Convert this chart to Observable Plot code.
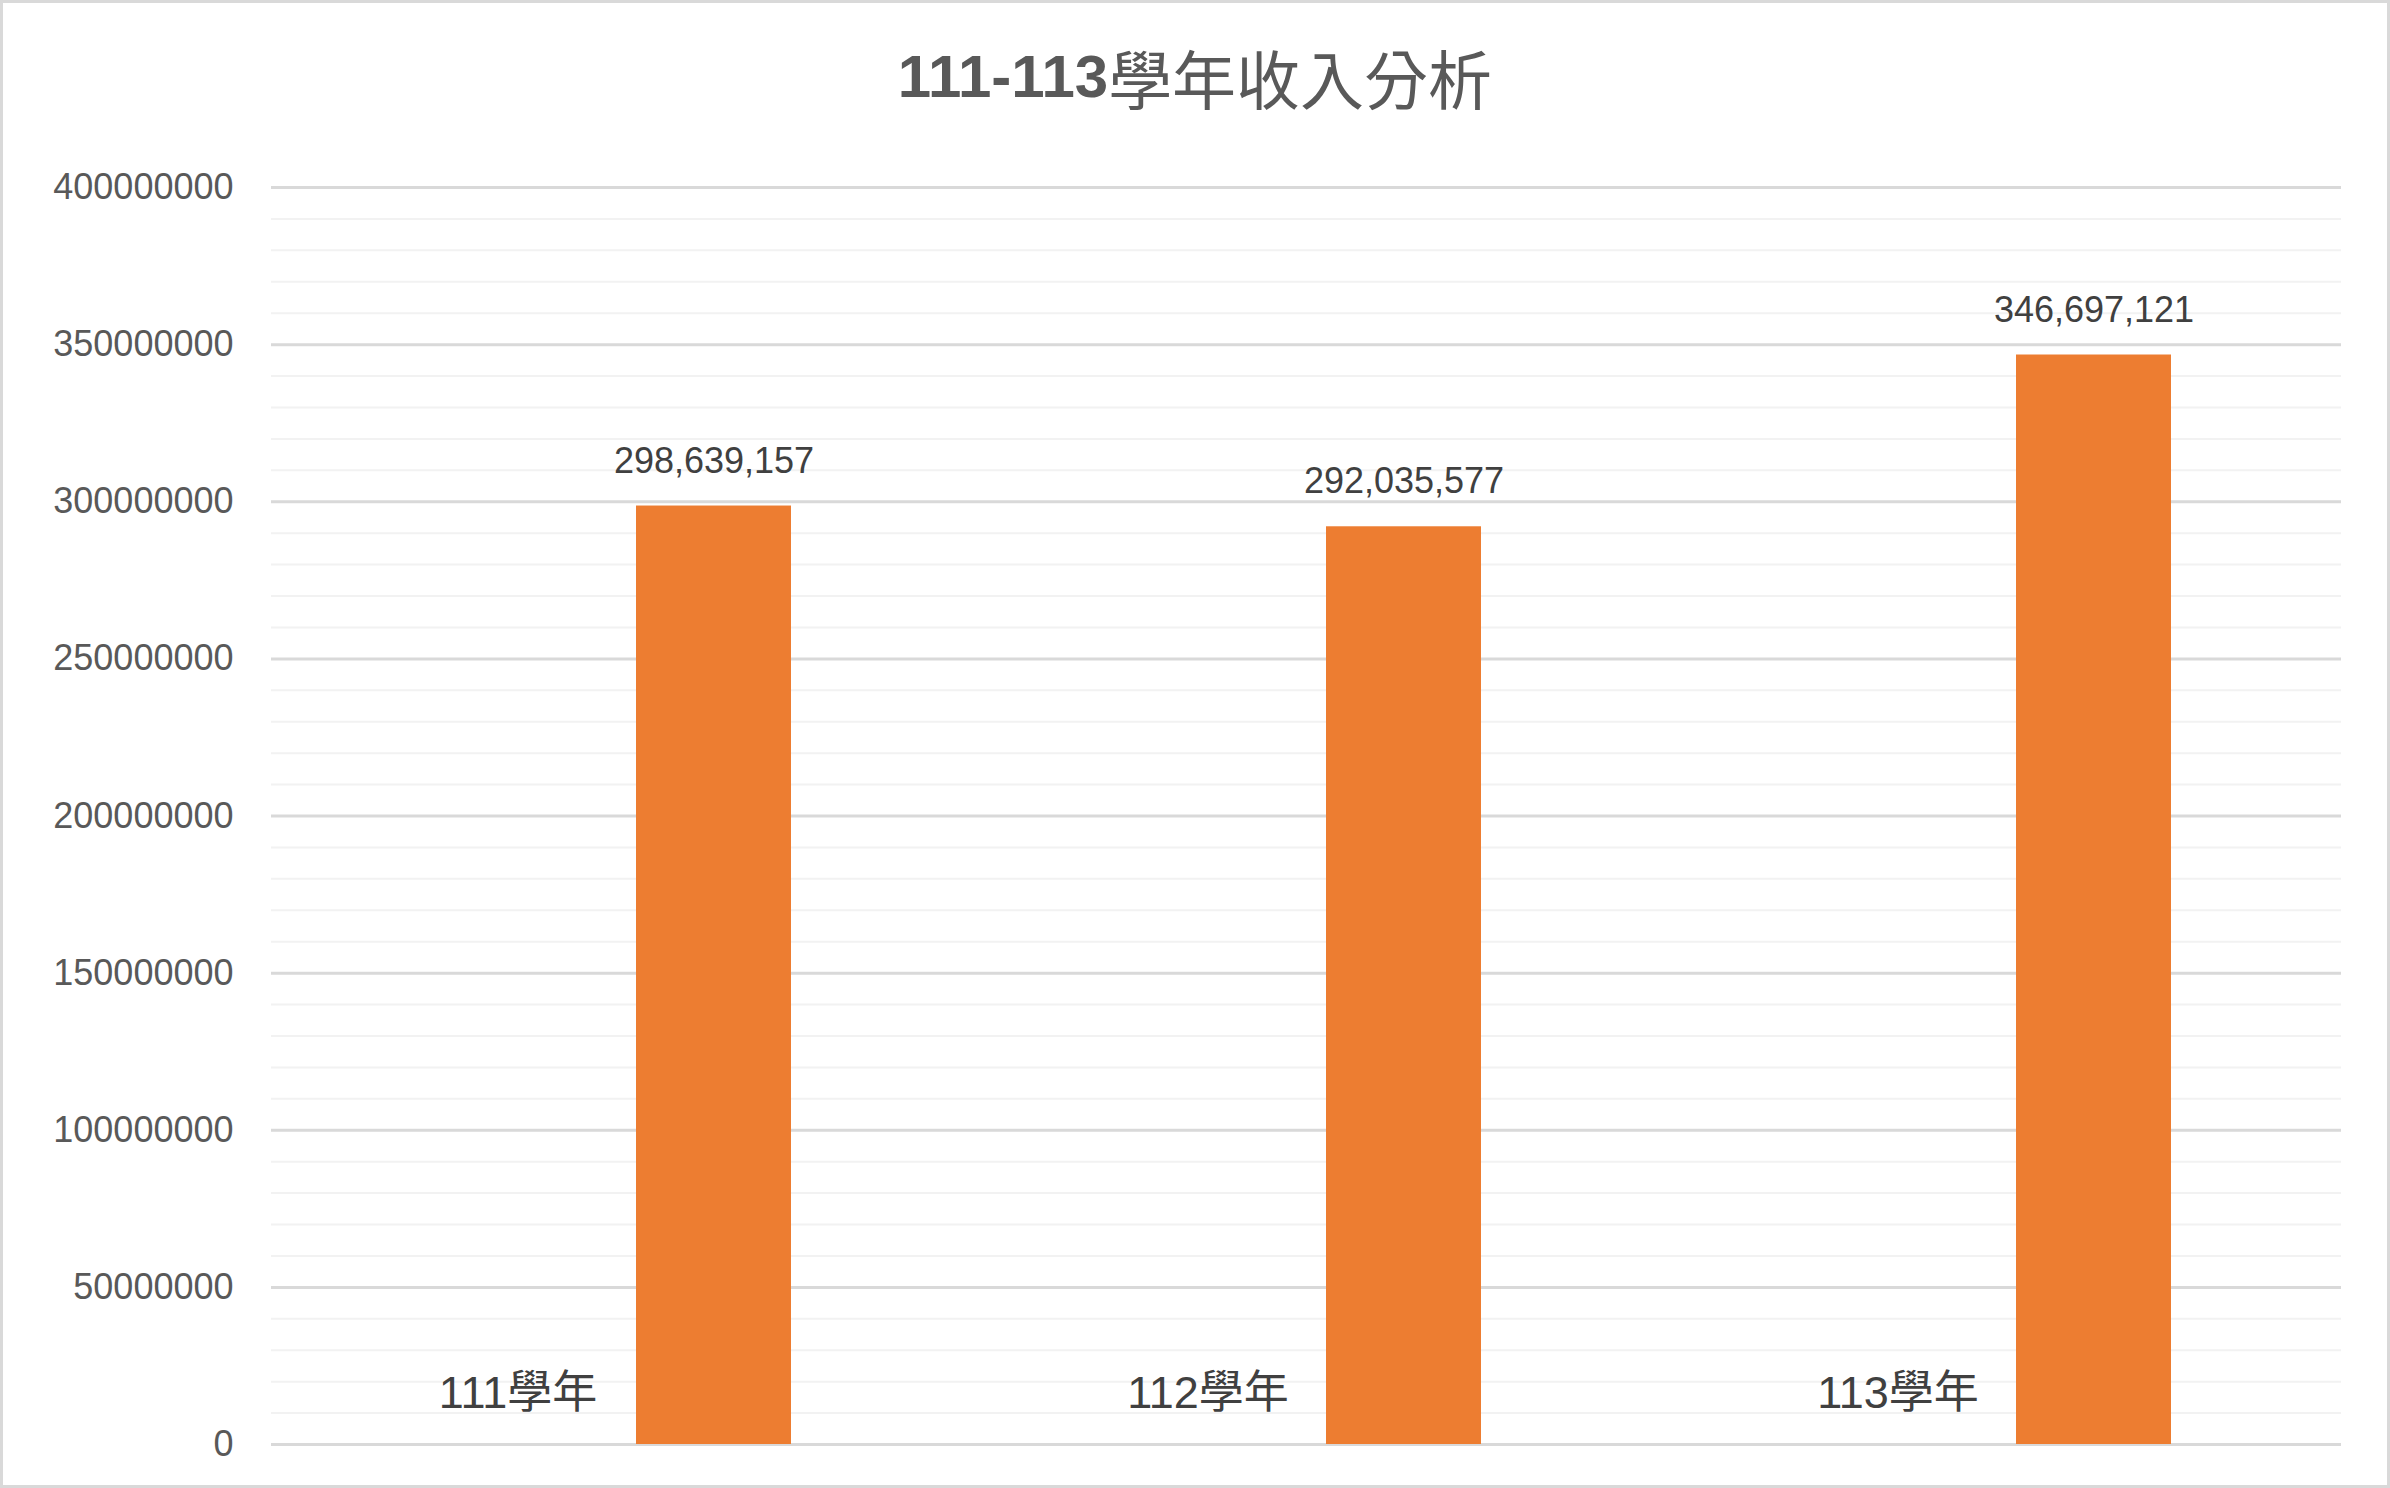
<!DOCTYPE html>
<html>
<head>
<meta charset="utf-8">
<script src="https://cdn.jsdelivr.net/npm/d3@7"></script>
<script src="https://cdn.jsdelivr.net/npm/@observablehq/plot@0.6"></script>
<style>
  html, body { margin: 0; padding: 0; background: #fff; }
  #wrap { position: relative; width: 2390px; height: 1488px; overflow: hidden; background: #fff; }
  #title { height: 152px; display: flex; align-items: center; justify-content: center;
           color: #595959; font-family: "Liberation Sans", Arial, sans-serif; }
  #title .num { font-weight: bold; font-size: 60px; }
  #title .cjk { font-family: "Noto Sans CJK TC", sans-serif; font-weight: 400; font-size: 64px; }
  #frame { position: absolute; left: 0; top: 0; width: 2390px; height: 1488px; box-sizing: border-box;
           border: 3px solid #d9d9d9; pointer-events: none; }
</style>
</head>
<body>
<div id="wrap">
  <div id="title"><span class="num">111-113</span><span class="cjk">學年收入分析</span></div>
  <div id="chart"></div>
  <div id="frame"></div>
</div>
<script>
const years = ["111學年", "112學年", "113學年"];
const income = [298639157, 292035577, 346697121];
const majorTicks = [0, 50000000, 100000000, 150000000, 200000000, 250000000, 300000000, 350000000, 400000000];
const minorTicks = d3.range(0, 400000001, 10000000).filter(v => v % 50000000 !== 0);
const slots = ["label", "value"];

const rows = years.map((y, i) => ({year: y, value: income[i], labelSlot: "label", valueSlot: "value"}));
const font = '"Liberation Sans", "Noto Sans CJK TC", Arial, sans-serif';

const chart = Plot.plot({
  width: 2390,
  height: 1336,
  marginLeft: 271,
  marginRight: 49,
  marginTop: 35,
  marginBottom: 44,
  style: {fontFamily: font, fontSize: "36px", color: "#595959", background: "transparent"},
  fx: {domain: years, padding: 0, axis: null},
  x: {domain: slots, paddingInner: 0.209, paddingOuter: 0.864, axis: null},
  y: {domain: [0, 400000000], axis: null},
  marks: [
    Plot.ruleY(minorTicks, {stroke: "#f2f2f2", strokeWidth: 2}),
    Plot.ruleY(majorTicks, {stroke: "#d9d9d9", strokeWidth: 3}),
    Plot.axisY({ticks: majorTicks, tickFormat: d => String(d), tickSize: 0, tickPadding: 38,
                fontSize: 36, fill: "#595959", label: null}),
    Plot.barY(rows, {fx: "year", x: "valueSlot", y: "value", fill: "#ED7D31"}),
    Plot.text(rows, {fx: "year", x: "valueSlot", y: "value", text: d => d3.format(",")(d.value),
                     dy: -45, fontSize: 36, fill: "#404040"}),
    Plot.text(rows, {fx: "year", x: "labelSlot", y: () => 0, text: "year",
                     dy: -51, fontSize: 45, fill: "#404040"})
  ]
});
document.getElementById("chart").appendChild(chart);
</script>
</body>
</html>
